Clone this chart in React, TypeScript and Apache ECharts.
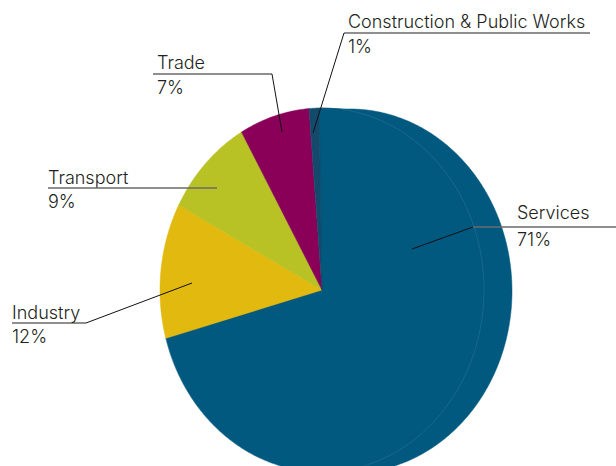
import React, { useEffect, useRef } from "react";
import * as echarts from "echarts";

// ---- data ----
const categories = ["Services", "Industry", "Transport", "Trade", "Construction & Public Works"];
const shares = [71, 12, 9, 7, 1];
const shareLabels = ["71%", "12%", "9%", "7%", "1%"];
const colors = ["#02597f", "#e1b90f", "#b8c225", "#8a0059", "#134a6b"];

// ---- layout (positions / sizes only) ----
const CX = 322;
const CY = 290;
const RX = 162;
const RY = 182;
const DEPTH_X = 28;
const DEPTH_Y = 1;
const START_DEG = -1;

// label annotation layout: text position, underline, leader end
const labelLayout = [
  { tx: 517, ty1: 212.5, ty2: 239.5, ux0: 473, ux1: 616, uy: 227, lx: 473, ex: 412, ey: 249 },
  { tx: 12, ty1: 312.5, ty2: 336.5, ux0: 12, ux1: 86, uy: 323, lx: 86, ex: 192, ey: 283 },
  { tx: 48, ty1: 177.5, ty2: 201.5, ux0: 48, ux1: 217, uy: 188, lx: 217, ex: 217, ey: 188 },
  { tx: 157, ty1: 62.5, ty2: 87.5, ux0: 153, ux1: 272, uy: 74, lx: 272, ex: 282, ey: 132 },
  { tx: 348, ty1: 21.5, ty2: 46.5, ux0: 344, ux1: 590, uy: 33, lx: 344, ex: 313, ey: 133 },
];

const FONT = "Inter, 'Noto Sans', sans-serif";
const TEXT_COLOR = "#231f20";
const FONT_SIZE = 18;

function sliceAngles() {
  const total = shares.reduce((a, b) => a + b, 0);
  const out: [number, number][] = [];
  let acc = 0;
  for (let i = 0; i < shares.length; i++) {
    const a0 = START_DEG + (360 * acc) / total;
    acc += shares[i];
    const a1 = START_DEG + (360 * acc) / total;
    out.push([a0, a1]);
  }
  return out;
}

function arcPoints(a0: number, a1: number, dx: number, dy: number) {
  const pts: number[][] = [];
  const n = Math.max(2, Math.ceil((a1 - a0) / 0.5));
  for (let k = 0; k <= n; k++) {
    const a = ((a0 + ((a1 - a0) * k) / n) * Math.PI) / 180;
    pts.push([CX + dx + RX * Math.sin(a), CY + dy - RY * Math.cos(a)]);
  }
  return pts;
}

function slicePoints(a0: number, a1: number, dx: number, dy: number) {
  return [[CX + dx, CY + dy], ...arcPoints(a0, a1, dx, dy)];
}

export default function App() {
  const ref = useRef<HTMLDivElement>(null);

  useEffect(() => {
    if (!ref.current) return;
    const chart = echarts.init(ref.current, undefined, { renderer: "svg" });
    const angles = sliceAngles();
    const seriesData = shares.map((v, i) => ({ name: categories[i], value: [v] }));

    const option: any = {
      animation: false,
      backgroundColor: "#ffffff",
      series: [
        {
          type: "custom",
          name: "depth",
          coordinateSystem: "none",
          silent: true,
          z: 1,
          data: seriesData,
          renderItem: (params: any) => {
            const i = params.dataIndex;
            if (i !== 0) return { type: "group", children: [] };
            const [a0, a1] = angles[i];
            const mainStart = arcPoints(a0, a0 + 1, 0, 0)[0];
            const mainEnd = arcPoints(a1 - 1, a1, 0, 0).slice(-1)[0];
            const pts = [[CX, CY], mainStart, ...arcPoints(a0, a1, DEPTH_X, DEPTH_Y), mainEnd];
            return {
              type: "polygon",
              shape: { points: pts },
              style: { fill: colors[i], stroke: colors[i], lineWidth: 0.5 },
            };
          },
        },
        {
          type: "custom",
          name: "slices",
          coordinateSystem: "none",
          z: 2,
          data: seriesData,
          renderItem: (params: any) => {
            const i = params.dataIndex;
            const [a0, a1] = angles[i];
            const children: any[] = [
              {
                type: "polygon",
                shape: { points: slicePoints(a0, a1, 0, 0) },
                style: { fill: colors[i], stroke: colors[i], lineWidth: 0.5 },
              },
            ];
            if (i === 0) {
              children.push({
                type: "polyline",
                shape: { points: arcPoints(a0 + 8, a1, 0, 0) },
                style: { fill: "none", stroke: "rgba(255,255,255,0.16)", lineWidth: 0.6 },
              });
            }
            return { type: "group", children };
          },
        },
        {
          type: "custom",
          name: "labels",
          coordinateSystem: "none",
          silent: true,
          z: 3,
          data: seriesData,
          renderItem: (params: any) => {
            const i = params.dataIndex;
            const L = labelLayout[i];
            const children: any[] = [
              {
                type: "line",
                shape: { x1: L.ux0, y1: L.uy, x2: L.ux1, y2: L.uy },
                style: { stroke: "#6a6a6a", lineWidth: 1.4 },
              },
              {
                type: "text",
                x: L.tx,
                y: L.ty1,
                style: {
                  text: categories[i],
                  fill: TEXT_COLOR,
                  font: `300 ${FONT_SIZE}px ${FONT}`,
                  textAlign: "left",
                  textVerticalAlign: "middle",
                },
              },
              {
                type: "text",
                x: L.tx,
                y: L.ty2,
                style: {
                  text: shareLabels[i],
                  fill: TEXT_COLOR,
                  font: `300 ${FONT_SIZE}px ${FONT}`,
                  textAlign: "left",
                  textVerticalAlign: "middle",
                },
              },
            ];
            if (L.ex !== L.lx || L.ey !== L.uy) {
              children.push({
                type: "line",
                shape: { x1: L.lx, y1: L.uy, x2: L.ex, y2: L.ey },
                style: { stroke: "#111111", lineWidth: 1 },
              });
            }
            return { type: "group", children };
          },
        },
      ],
    };
    chart.setOption(option);
    return () => chart.dispose();
  }, []);

  return (
    <div
      ref={ref}
      style={{ position: "absolute", left: 0, top: 0, width: 616, height: 466 }}
    />
  );
}
